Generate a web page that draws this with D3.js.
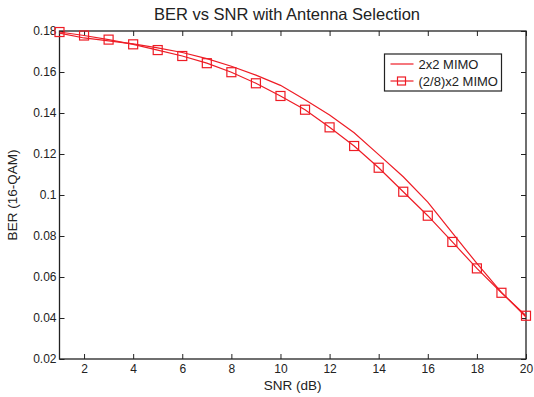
<!DOCTYPE html>
<html>
<head>
<meta charset="utf-8">
<script src="https://cdn.jsdelivr.net/npm/d3@7"></script>
<style>
  body { margin: 0; background: #fff; }
  svg { display: block; font-family: "Liberation Sans", Arial, sans-serif; }
</style>
</head>
<body>
<svg id="chart" width="534" height="397"></svg>
<script>
(function () {
    'use strict';

    var snr = [1, 2, 3, 4, 5, 6, 7, 8, 9, 10, 11, 12, 13, 14, 15, 16, 17, 18, 19, 20];
    var berMimo = [0.1790, 0.1766, 0.1752, 0.1737, 0.1718, 0.1695, 0.1665, 0.1628, 0.1585, 0.1535,
                   0.1465, 0.1390, 0.1304, 0.1197, 0.1089, 0.0965, 0.0815, 0.0666, 0.0525, 0.0405];
    var berSel = [0.1795, 0.1778, 0.1758, 0.1735, 0.1707, 0.1678, 0.1643, 0.1599, 0.1545, 0.1483,
                  0.1416, 0.1330, 0.1239, 0.1133, 0.1016, 0.0899, 0.0771, 0.0642, 0.0523, 0.0411];
    var xTicks = [2, 4, 6, 8, 10, 12, 14, 16, 18, 20];
    var yTicks = [0.02, 0.04, 0.06, 0.08, 0.1, 0.12, 0.14, 0.16, 0.18];
    var seriesNames = ['2x2 MIMO', '(2/8)x2 MIMO'];

    var left = 59.5, right = 526, top = 31, bottom = 359;
    var svg = d3.select('#chart');

    var x = d3.scaleLinear().domain([1, 20]).range([left, right]);
    var y = d3.scaleLinear().domain([0.02, 0.18]).range([bottom, top]);

    // axes box
    svg.append('rect')
        .attr('x', left).attr('y', top)
        .attr('width', right - left).attr('height', bottom - top)
        .attr('fill', 'none').attr('stroke', '#222').attr('stroke-width', 1.3);

    var fmt = function (d) { return d3.format('')(+d.toFixed(2)); };

    svg.append('g').attr('transform', 'translate(0,' + bottom + ')')
        .call(d3.axisBottom(x).tickValues(xTicks).tickSizeInner(-5).tickSizeOuter(0).tickPadding(5));
    svg.append('g').attr('transform', 'translate(0,' + top + ')')
        .call(d3.axisTop(x).tickValues(xTicks).tickSizeInner(-5).tickSizeOuter(0).tickFormat(''));
    svg.append('g').attr('transform', 'translate(' + left + ',0)')
        .call(d3.axisLeft(y).tickValues(yTicks).tickSizeInner(-5).tickSizeOuter(0).tickPadding(3).tickFormat(fmt));
    svg.append('g').attr('transform', 'translate(' + right + ',0)')
        .call(d3.axisRight(y).tickValues(yTicks).tickSizeInner(-5).tickSizeOuter(0).tickFormat(''));

    svg.selectAll('.domain').remove();
    svg.selectAll('.tick line').attr('stroke', '#222');
    svg.selectAll('.tick text').attr('font-size', 12).attr('fill', '#222')
        .attr('font-family', '"Liberation Sans", Arial, sans-serif');

    // lines
    var line = d3.line()
        .x(function (d) { return x(d[0]); })
        .y(function (d) { return y(d[1]); });

    var d1 = d3.zip(snr, berMimo);
    var d2 = d3.zip(snr, berSel);

    svg.append('path').datum(d1).attr('d', line)
        .attr('fill', 'none').attr('stroke', '#ee1c25').attr('stroke-width', 1.2);
    svg.append('path').datum(d2).attr('d', line)
        .attr('fill', 'none').attr('stroke', '#ee1c25').attr('stroke-width', 1.2);

    svg.selectAll('rect.mk').data(d2).enter().append('rect')
        .attr('class', 'mk')
        .attr('x', function (d) { return x(d[0]) - 4.5; })
        .attr('y', function (d) { return y(d[1]) - 4.5; })
        .attr('width', 9).attr('height', 9)
        .attr('fill', 'none').attr('stroke', '#ee1c25').attr('stroke-width', 1.2);

    // title and labels
    svg.append('text').attr('x', 287).attr('y', 20)
        .attr('text-anchor', 'middle').attr('font-size', 16.5).attr('fill', '#222')
        .text('BER vs SNR with Antenna Selection');
    svg.append('text').attr('x', (left + right) / 2).attr('y', 390)
        .attr('text-anchor', 'middle').attr('font-size', 13.5).attr('fill', '#222')
        .text('SNR (dB)');
    svg.append('text')
        .attr('transform', 'translate(17,' + (top + bottom) / 2 + ') rotate(-90)')
        .attr('text-anchor', 'middle').attr('font-size', 13.5).attr('fill', '#222')
        .text('BER (16-QAM)');

    // legend
    var lg = svg.append('g').attr('transform', 'translate(384.5,54)');
    lg.append('rect').attr('width', 117).attr('height', 37)
        .attr('fill', '#fff').attr('stroke', '#222').attr('stroke-width', 1.2);
    var items = lg.selectAll('g.item').data(seriesNames).enter().append('g')
        .attr('class', 'item')
        .attr('transform', function (d, i) { return 'translate(0,' + (10 + i * 17) + ')'; });
    items.append('line').attr('x1', 6).attr('x2', 29).attr('y1', 0).attr('y2', 0)
        .attr('stroke', '#ee1c25').attr('stroke-width', 1.2);
    items.filter(function (d, i) { return i === 1; }).append('rect')
        .attr('x', 13).attr('y', -4).attr('width', 8).attr('height', 8)
        .attr('fill', 'none').attr('stroke', '#ee1c25').attr('stroke-width', 1.2);
    items.append('text').attr('x', 34).attr('y', 4.5)
        .attr('font-size', 13).attr('fill', '#222')
        .text(function (d) { return d; });
})();
</script>
</body>
</html>
